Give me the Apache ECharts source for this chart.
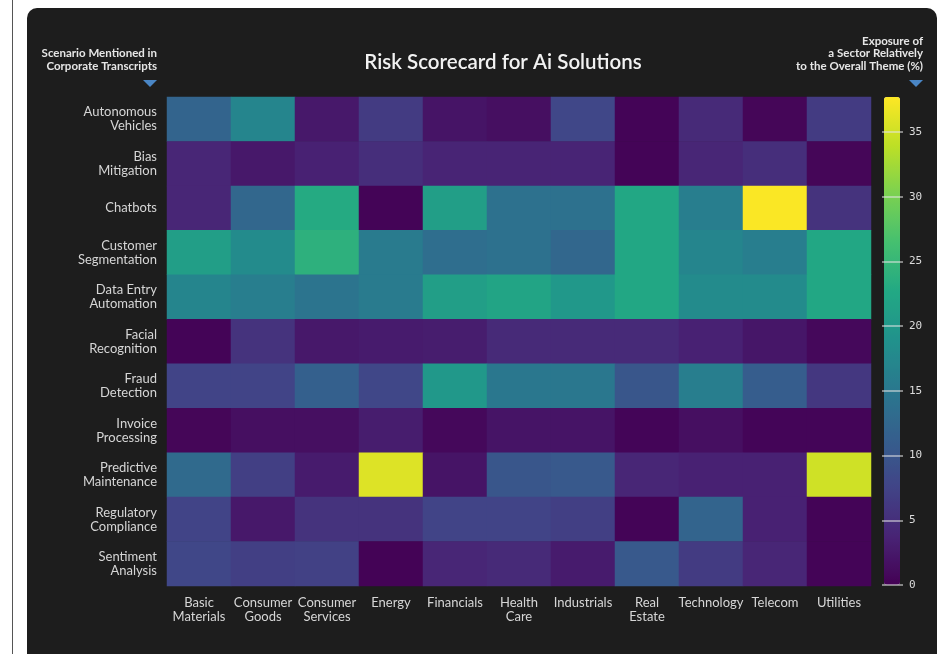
<!DOCTYPE html>
<html>
<head>
<meta charset="utf-8">
<script src="https://cdn.jsdelivr.net/npm/echarts@6/dist/echarts.min.js"></script>
<style>
html,body{margin:0;padding:0;background:#fff;}
#chart{width:952px;height:654px;}
</style>
</head>
<body>
<div id="chart"></div>
<script>
const sectors = ["Basic\nMaterials","Consumer\nGoods","Consumer\nServices","Energy","Financials","Health\nCare","Industrials","Real\nEstate","Technology","Telecom","Utilities"];
const scenarios = ["Autonomous\nVehicles","Bias\nMitigation","Chatbots","Customer\nSegmentation","Data Entry\nAutomation","Facial\nRecognition","Fraud\nDetection","Invoice\nProcessing","Predictive\nMaintenance","Regulatory\nCompliance","Sentiment\nAnalysis"];
const colorbarTicks = [0,5,10,15,20,25,30,35];
const valueMax = 37.7;

// rows follow scenarios, columns follow sectors
const autonomousVehicles   = [12.0,17.0,2.5,6.5,2.0,1.5,8.0,0.3,4.5,0.5,6.5];
const biasMitigation       = [4.0,2.5,3.5,5.0,3.8,3.8,3.8,0.3,4.0,5.0,0.5];
const chatbots             = [4.0,12.5,23.0,0.3,21.0,14.0,14.0,22.5,16.0,37.5,5.5];
const customerSegmentation = [21.0,18.0,24.0,15.5,13.5,14.0,12.5,22.5,17.0,16.0,22.5];
const dataEntryAutomation  = [17.0,16.0,14.5,15.5,21.0,22.0,20.0,22.5,18.0,18.0,22.5];
const facialRecognition    = [0.3,5.5,2.5,2.8,3.0,4.5,4.5,4.5,3.5,2.3,0.8];
const fraudDetection       = [7.5,7.5,11.5,8.0,20.0,15.0,15.0,10.0,16.0,11.0,6.0];
const invoiceProcessing    = [0.5,1.5,1.5,3.0,0.8,2.0,2.0,0.4,1.5,0.4,0.4];
const predictiveMaintenance= [13.0,7.0,2.8,35.8,2.0,10.0,10.5,4.0,3.5,3.5,35.0];
const regulatoryCompliance = [7.5,2.5,5.5,5.5,7.5,7.5,7.0,0.3,12.0,3.5,0.3];
const sentimentAnalysis    = [8.0,7.0,7.2,0.2,4.0,4.5,2.8,10.5,6.5,4.0,0.3];

const rows = [autonomousVehicles,biasMitigation,chatbots,customerSegmentation,dataEntryAutomation,facialRecognition,fraudDetection,invoiceProcessing,predictiveMaintenance,regulatoryCompliance,sentimentAnalysis];

const data = [];
rows.forEach((r, yi) => r.forEach((v, xi) => data.push([xi, yi, v])));

const viridis = ['#440154','#482475','#414487','#355f8d','#2a788e','#21918c','#22a884','#44bf70','#7ad151','#bddf26','#fde725'];
const labelFont = 'Lato';
const chart = echarts.init(document.getElementById('chart'), null, {renderer:'canvas'});
chart.setOption({
  backgroundColor: '#ffffff',
  animation: false,
  graphic: [
    {type:'line', z:-10, shape:{x1:12.5,y1:0,x2:12.5,y2:654}, style:{stroke:'#555',lineWidth:1}},
    {type:'rect', z:-10, shape:{x:27,y:8,width:910,height:660,r:10}, style:{fill:'#1d1d1d'}},
    {type:'polygon', z:5, shape:{points:[[143,80],[157,80],[150,87]]}, style:{fill:'#4a86c5'}},
    {type:'polygon', z:5, shape:{points:[[909,80],[923,80],[916,87]]}, style:{fill:'#4a86c5'}}
  ],
  title: [
    {text:'Risk Scorecard for Ai Solutions', left:503, top:52, textAlign:'center', padding:0,
     textStyle:{color:'#f2f2f2', fontFamily:labelFont, fontSize:20.5, fontWeight:600}},
    {text:'Scenario Mentioned in\nCorporate Transcripts', left:157, top:47, textAlign:'right', padding:0,
     textStyle:{color:'#e6e6e6', fontFamily:labelFont, fontSize:11.5, fontWeight:'bold', lineHeight:13, align:'right'}},
    {text:'Exposure of\na Sector Relatively\nto the Overall Theme (%)', left:923, top:35, textAlign:'right', padding:0,
     textStyle:{color:'#e6e6e6', fontFamily:labelFont, fontSize:11.5, fontWeight:'bold', lineHeight:12.5, align:'right'}}
  ],
  grid: [
    {left:167, right:81, top:97, bottom:68},
    {left:882, width:21, top:97, height:488}
  ],
  xAxis: [
    {type:'category', gridIndex:0, data:sectors, position:'bottom',
     axisLine:{show:false}, axisTick:{show:false}, splitLine:{show:false},
     axisLabel:{color:'#d6d6d6', fontFamily:labelFont, fontSize:13, lineHeight:14, margin:10, interval:0}},
    {type:'value', gridIndex:1, show:false, min:0, max:1}
  ],
  yAxis: [
    {type:'category', gridIndex:0, data:scenarios, inverse:true,
     axisLine:{show:false}, axisTick:{show:false}, splitLine:{show:false},
     axisLabel:{color:'#d6d6d6', fontFamily:labelFont, fontSize:13, lineHeight:14, margin:10, align:'right'}},
    {type:'value', gridIndex:1, min:0, max:valueMax, interval:5, position:'right', zlevel:1, z:10,
     axisLine:{show:false}, axisTick:{show:false},
     splitLine:{show:true, showMinLine:true, showMaxLine:false, lineStyle:{color:'rgba(230,230,230,0.7)', width:1.5}},
     axisLabel:{color:'#dcdcdc', fontFamily:'DejaVu Sans Mono', fontSize:11, margin:6,
       customValues: colorbarTicks}
    }
  ],
  visualMap: {
    type:'continuous', min:0, max:valueMax, seriesIndex:0, calculable:false,
    orient:'vertical', left:884, top:97, itemWidth:16, itemHeight:488, padding:0,
    text:['',''], showLabel:false, z:2,
    inRange:{color:viridis}
  },
  series: [
    {type:'heatmap', xAxisIndex:0, yAxisIndex:0, data:data, itemStyle:{borderWidth:0}, emphasis:{disabled:true}}
  ]
});
</script>
</body>
</html>
